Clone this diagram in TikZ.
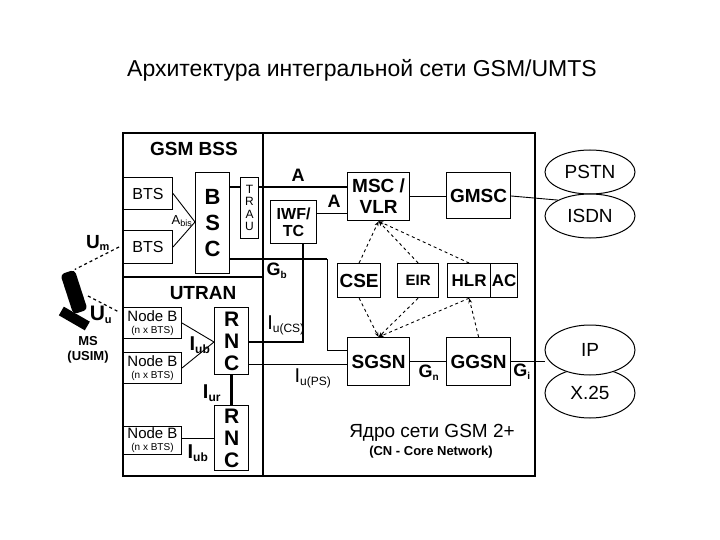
\documentclass[tikz,border=0pt]{standalone}
\usepackage{fontspec}
\setmainfont{Liberation Sans}
\usetikzlibrary{arrows.meta,shapes.geometric}
\begin{document}
\begin{tikzpicture}[x=1pt,y=-1pt,
 bx/.style={draw,line width=1.2pt,inner sep=0pt,font=\bfseries\fontsize{19}{21}\selectfont,align=center},
 nb/.style={draw,line width=1pt,inner sep=0pt,align=center},
 el/.style={draw,ellipse,line width=1pt,inner sep=0pt,font=\fontsize{19}{20}\selectfont},
 thk/.style={line width=2.4pt},
 thn/.style={line width=0.9pt},
 dsh/.style={dashed,line width=0.9pt,-{Stealth[length=5pt]}},
 lb/.style={font=\bfseries\fontsize{18}{19}\selectfont,inner sep=0pt}]
\useasboundingbox (0,0) rectangle (720,540);
\node[font=\fontsize{23}{25}\selectfont] (title) at (362,70) {Архитектура интегральной сети GSM/UMTS};
% frames
\draw[line width=1.4pt] (123,133) rectangle (535,476);
\draw[line width=1.4pt] (123,277) -- (263,277);
\draw[line width=1.4pt] (263,133) -- (263,476);
\node[lb,font=\bfseries\fontsize{19}{20}\selectfont] (gsmbss) at (194,149) {GSM BSS};
\node[lb,font=\bfseries\fontsize{19}{20}\selectfont] (utran) at (203,293) {UTRAN};
% BSS
\node[nb,minimum width=49pt,minimum height=32pt,anchor=north west,font=\fontsize{16}{17}\selectfont] (bts1) at (123,177) {BTS};
\node[nb,minimum width=49pt,minimum height=33pt,anchor=north west,font=\fontsize{16}{17}\selectfont] (bts2) at (123,230) {BTS};
\node[bx,minimum width=34pt,minimum height=101pt,anchor=north west,font=\bfseries\fontsize{22}{26}\selectfont] (bsc) at (195,172) {B\\S\\C};
\node[nb,minimum width=18pt,minimum height=61pt,anchor=north west,font=\fontsize{12}{12.5}\selectfont] (trau) at (240,177) {T\\R\\A\\U};
\coordinate (bscin) at (195,222);
\draw[thn] (bts1.east) -- (bscin) -- (bts2.east);
\node[font=\fontsize{13}{13}\selectfont,inner sep=0pt] (abis) at (182,221) {A\textsubscript{\fontsize{9}{9}\selectfont bis}};
% core
\node[bx,minimum width=62pt,minimum height=48pt,anchor=north west] (msc) at (347,172) {MSC /\\VLR};
\node[bx,minimum width=64pt,minimum height=46pt,anchor=north west] (gmsc) at (446,172) {GMSC};
\node[bx,minimum width=46pt,minimum height=43pt,anchor=north west,font=\bfseries\fontsize{16}{17}\selectfont] (iwf) at (270,200) {IWF/\\TC};
\node[bx,minimum width=43pt,minimum height=34pt,anchor=north west] (cse) at (337,263) {CSE};
\node[bx,minimum width=41pt,minimum height=34pt,anchor=north west,font=\bfseries\fontsize{15}{16}\selectfont] (eir) at (397,263) {EIR};
\node[bx,minimum width=43pt,minimum height=34pt,anchor=north west,font=\bfseries\fontsize{17}{18}\selectfont] (hlr) at (447,263) {HLR};
\node[bx,minimum width=27pt,minimum height=34pt,anchor=north west,font=\bfseries\fontsize{17}{18}\selectfont] (ac) at (490,263) {AC};
\node[bx,minimum width=62pt,minimum height=48pt,anchor=north west] (sgsn) at (347,337) {SGSN};
\node[bx,minimum width=64pt,minimum height=48pt,anchor=north west] (ggsn) at (446,337) {GGSN};
\node[el,minimum width=90pt,minimum height=44pt] (pstn) at (590,172) {PSTN};
\node[el,minimum width=90pt,minimum height=44pt,fill=white] (isdn) at (590,216) {ISDN};
\node[el,minimum width=90pt,minimum height=50pt] (x25) at (590,393) {X.25};
\node[el,minimum width=90pt,minimum height=50pt,fill=white] (ip) at (590,350) {IP};
% lines
\draw[thk] (bsc.east |- 0,187) -- (trau.west |- 0,187);
\draw[thk] (trau.east |- 0,187) -- (msc.west |- 0,187);
\node[lb] (la1) at (298,175) {A};
\draw[thn] (iwf.east |- 0,213) -- (msc.west |- 0,213);
\node[lb] (la2) at (334,201) {A};
\draw[thn] (msc.east |- 0,196) -- (gmsc.west |- 0,196);
\draw[thn] (gmsc.east |- 0,196) -- (isdn.north west);
\draw[thk] (bsc.east |- 0,259) -- (327,259);
\coordinate (gbc) at (327,350);
\draw[thn] (327,259) -- (gbc) -- (sgsn.west |- gbc);
\node[lb] (gb) at (277,271) {G\textsubscript{\fontsize{10}{10}\selectfont b}};
\draw[thn] (sgsn.east |- 0,361) -- (ggsn.west |- 0,361);
\node[lb] (gn) at (429,373) {G\textsubscript{\fontsize{10}{10}\selectfont n}};
\draw[thn] (ggsn.east |- 0,361) -- (ip.west |- 0,361);
\node[lb] (gi) at (522,372) {G\textsubscript{\fontsize{10}{10}\selectfont i}};
% dashed
\draw[dsh] (cse.north) -- (msc.south);
\draw[dsh] (eir.north) -- (msc.south);
\draw[dsh] (hlr.north) -- (msc.south);
\draw[dsh] (cse.south) -- (sgsn.north);
\draw[dsh] (eir.south) -- (sgsn.north);
\draw[dsh] (hlr.south) -- (sgsn.north);
\draw[dsh] (ggsn.north) -- (hlr.south);
% UTRAN
\node[nb,minimum width=58pt,minimum height=31pt,anchor=north west] (nb1) at (123,307) {\fontsize{15}{15}\selectfont Node B\\\fontsize{10}{10}\selectfont (n x BTS)};
\node[nb,minimum width=58pt,minimum height=31pt,anchor=north west] (nb2) at (123,352) {\fontsize{15}{15}\selectfont Node B\\\fontsize{10}{10}\selectfont (n x BTS)};
\node[nb,minimum width=58pt,minimum height=28pt,anchor=north west] (nb3) at (123,426) {\fontsize{15}{15}\selectfont Node B\\\fontsize{10}{10}\selectfont (n x BTS)};
\node[bx,minimum width=34pt,minimum height=67pt,anchor=north west,font=\bfseries\fontsize{21}{22}\selectfont] (rnc1) at (214,307) {R\\N\\C};
\node[bx,minimum width=34pt,minimum height=65pt,anchor=north west,font=\bfseries\fontsize{21}{22}\selectfont] (rnc2) at (214,405) {R\\N\\C};
\coordinate (rncin) at (214,342);
\draw[thn] (nb1.east) -- (rncin) -- (nb2.east);
\draw[thk] (rnc1.south) -- (rnc2.north);
\draw[thn] (nb3.east |- 0,438) -- (rnc2.west |- 0,438);
\node[lb,font=\bfseries\fontsize{20}{20}\selectfont] (iub1) at (200,345) {I\textsubscript{\fontsize{12}{12}\selectfont ub}};
\node[lb,font=\bfseries\fontsize{20}{20}\selectfont] (iur) at (212,393) {I\textsubscript{\fontsize{12}{12}\selectfont ur}};
\node[lb,font=\bfseries\fontsize{20}{20}\selectfont] (iub2) at (198,453) {I\textsubscript{\fontsize{12}{12}\selectfont ub}};
\coordinate (iuc) at (303,342);
\draw[thk] (rnc1.east |- iuc) -- (iuc) -- (iwf.south -| iuc);
\node[lb,font=\fontsize{20}{20}\selectfont] (iucs) at (286,325) {I\textsubscript{\fontsize{12}{12}\selectfont u(CS)}};
\draw[thn] (rnc1.east |- 0,364) -- (sgsn.west |- 0,364);
\node[lb,font=\fontsize{20}{20}\selectfont] (iups) at (313,378) {I\textsubscript{\fontsize{12}{12}\selectfont u(PS)}};
\node[font=\fontsize{19}{20}\selectfont,inner sep=0pt] (core) at (432,433) {Ядро сети GSM 2+};
\node[font=\bfseries\fontsize{13}{14}\selectfont,inner sep=0pt] (cn) at (431,452) {(CN - Core Network)};
% MS
\node[fill=black,rotate=18,minimum width=15pt,minimum height=42pt,rounded corners=4pt,inner sep=0pt] (ms) at (74,292) {};
\fill[black,rotate around={-30:(70,316)}] (60,311) rectangle (90,321);
\node[font=\bfseries\fontsize{13}{15}\selectfont,align=center,inner sep=0pt] (mslab) at (88,350) {MS\\(USIM)};
\node[lb,font=\bfseries\fontsize{19}{19}\selectfont] (um) at (98,243) {U\textsubscript{\fontsize{11}{11}\selectfont m}};
\node[lb,font=\bfseries\fontsize{21}{21}\selectfont] (uu) at (101,315) {U\textsubscript{\fontsize{11}{11}\selectfont u}};
\coordinate (umend) at (119,247);
\coordinate (uuend) at (119,312);
\draw[dashed,line width=1.2pt] (umend) -- (ms.north east);
\draw[dashed,line width=1.2pt] (88,296) -- (uuend);
\end{tikzpicture}
\end{document}
